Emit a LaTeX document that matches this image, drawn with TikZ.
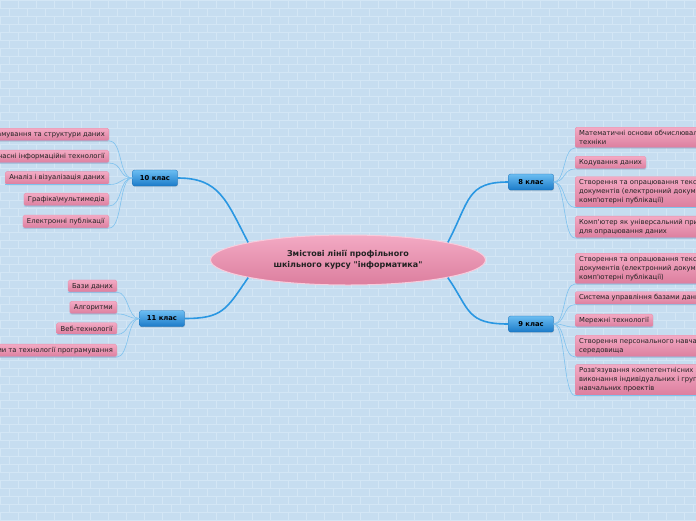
\documentclass[tikz,border=0pt]{standalone}
\usepackage{fontspec}
\setmainfont{DejaVu Sans}
\usetikzlibrary{shapes.geometric}
\usetikzlibrary{shadows}

\definecolor{wall}{HTML}{C6DDF0}
\definecolor{brickline}{HTML}{D3E6F5}
\definecolor{kidtop}{HTML}{F3AAC4}
\definecolor{kidbot}{HTML}{DC7E9E}
\definecolor{kidedge}{HTML}{E292AE}
\definecolor{gradetop}{HTML}{6BBDF2}
\definecolor{gradebot}{HTML}{1B7BC9}
\definecolor{gradeedge}{HTML}{1A6DB2}
\definecolor{limbblue}{HTML}{2A97E2}
\definecolor{twigblue}{HTML}{7FC2EE}
\definecolor{ink}{HTML}{222222}

\tikzset{
  brick/.style={brickline, line width=0.5pt},
  kid/.style={rounded corners=1.5pt, top color=kidtop, bottom color=kidbot,
    draw=kidedge, line width=0.3pt, text=ink, align=left,
    font=\fontsize{6.8}{9}\selectfont, inner xsep=4pt, inner ysep=3.1pt,
    drop shadow={opacity=0.18, shadow xshift=0.5pt, shadow yshift=-1pt}},
  grade/.style={rounded corners=2pt, top color=gradetop, bottom color=gradebot,
    draw=gradeedge, line width=0.3pt, text=black, inner sep=0pt,
    minimum width=45pt, minimum height=16pt,
    font=\bfseries\fontsize{6.8}{8}\selectfont,
    drop shadow={opacity=0.2, shadow xshift=0.5pt, shadow yshift=-1pt}},
  root/.style={ellipse, top color=kidtop, bottom color=kidbot, draw=kidtop!60!white,
    line width=1pt, minimum width=275pt, minimum height=50pt, inner sep=0pt,
    text=ink, align=center, font=\bfseries\fontsize{8}{11}\selectfont},
  limb/.style={limbblue, line width=1.6pt},
  twig/.style={twigblue, line width=0.6pt}
}
\newcommand{\apos}{\textquotesingle}

\begin{document}
\begin{tikzpicture}[x=1pt,y=-1pt]
  \useasboundingbox (0,0) rectangle (696,520);

  % Brick wall
  \fill[wall] (0,0) rectangle (696,520);
  \foreach \r in {0,...,65} {
    \draw[brick] (0,\r*8) -- (696,\r*8);
    \pgfmathsetmacro{\off}{mod(\r,2)*9}
    \foreach \c in {0,...,39}
      \draw[brick] (\off+\c*18,\r*8) -- ++(0,8);
  }
  \clip (0,0) rectangle (696,520);

  % Centre and grades
  \node[root] (core) at (348,260) {Змістові лінії профільного\\шкільного курсу \textquotedbl інформатика\textquotedbl};
  \node[grade] (g10) at (155,178) {10 клас};
  \node[grade] (g11) at (162,318.5) {11 клас};
  \node[grade] (g8) at (531,182) {8 клас};
  \node[grade] (g9) at (531,324) {9 клас};

  % Main branches
  \draw[limb] (core.170) .. controls +(-22,-42) and +(42,0) .. (g10.east);
  \draw[limb] (core.190) .. controls +(-22,32) and +(38,0) .. (g11.east);
  \draw[limb] (core.10) .. controls +(22,-42) and +(-42,0) .. (g8.west);
  \draw[limb] (core.350) .. controls +(22,32) and +(-42,0) .. (g9.west);

  % 10 клас
  \node[kid, anchor=east] (a1) at (109,134.5) {Програмування та структури даних};
  \node[kid, anchor=east] (a2) at (109,156.5) {Сучасні інформаційні технології};
  \node[kid, anchor=east] (a3) at (109,178) {Аналіз і візуалізація даних};
  \node[kid, anchor=east] (a4) at (109,199.5) {Графіка\textbackslash мультимедіа};
  \node[kid, anchor=east] (a5) at (109,221.5) {Електронні публікації};
  \foreach \k in {a1,a2,a3,a4,a5}
    \draw[twig] (g10.west) .. controls +(-14,0) and +(14,0) .. (\k.south east) -- (\k.south west);

  % 11 клас
  \node[kid, anchor=east] (b1) at (117,286) {Бази даних};
  \node[kid, anchor=east] (b2) at (117,307.5) {Алгоритми};
  \node[kid, anchor=east] (b3) at (117,328.5) {Веб-технології};
  \node[kid, anchor=east] (b4) at (117,350.5) {Системи та технології програмування};
  \foreach \k in {b1,b2,b3,b4}
    \draw[twig] (g11.west) .. controls +(-12,0) and +(12,0) .. (\k.south east) -- (\k.south west);

  % 8 клас
  \node[kid, anchor=west] (c1) at (575,137.5) {Математичні основи обчислювальної\\техніки};
  \node[kid, anchor=west] (c2) at (575,162.5) {Кодування даних};
  \node[kid, anchor=west] (c3) at (575,192) {Створення та опрацювання текстових\\документів (електронний документ,\\комп\apos ютерні публікації)};
  \node[kid, anchor=west] (c4) at (575,227) {Комп\apos ютер як універсальний пристрій\\для опрацювання даних};
  \foreach \k in {c1,c2,c3,c4}
    \draw[twig] (g8.east) .. controls +(12,0) and +(-12,0) .. (\k.south west) -- (\k.south east);

  % 9 клас
  \node[kid, anchor=west] (d1) at (575,268.5) {Створення та опрацювання текстових\\документів (електронний документ,\\комп\apos ютерні публікації)};
  \node[kid, anchor=west] (d2) at (575,298) {Система управління базами даних};
  \node[kid, anchor=west] (d3) at (575,320.5) {Мережні технології};
  \node[kid, anchor=west] (d4) at (575,346) {Створення персонального навчального\\середовища};
  \node[kid, anchor=west] (d5) at (575,380) {Розв\apos язування компетентнісних задач,\\виконання індивідуальних і групових\\навчальних проектів};
  \foreach \k in {d1,d2,d3,d4,d5}
    \draw[twig] (g9.east) .. controls +(12,0) and +(-12,0) .. (\k.south west) -- (\k.south east);
\end{tikzpicture}
\end{document}
